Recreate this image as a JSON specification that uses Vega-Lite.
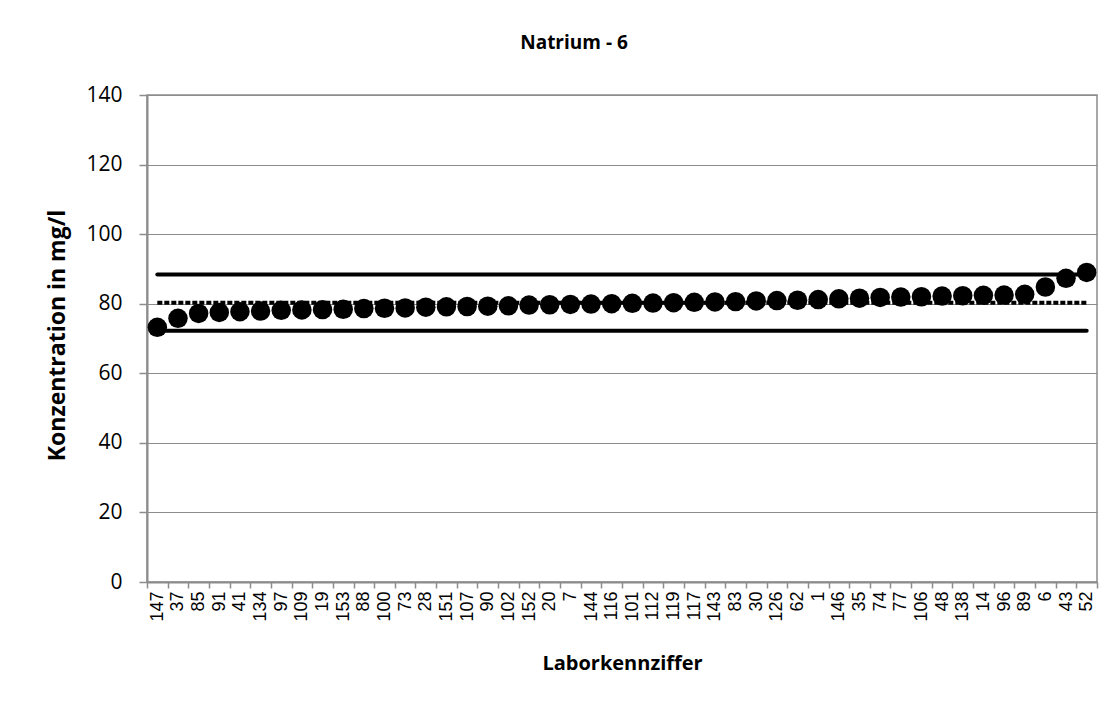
{
  "$schema": "https://vega.github.io/schema/vega-lite/v6.json",
  "autosize": {"type": "none"},
  "padding": {"left": 147, "top": 95, "right": 20, "bottom": 124},
  "width": 950,
  "height": 487,
  "background": "white",
  "title": {
    "text": "Natrium - 6",
    "font": "Open Sans",
    "fontSize": 19,
    "fontWeight": "bold",
    "color": "black",
    "anchor": "middle",
    "dx": -48,
    "offset": 31
  },
  "datasets": {
    "points": [
      {"lab": "147", "konz": 73.2},
      {"lab": "37", "konz": 75.8},
      {"lab": "85", "konz": 77.2},
      {"lab": "91", "konz": 77.5},
      {"lab": "41", "konz": 77.7},
      {"lab": "134", "konz": 77.9},
      {"lab": "97", "konz": 78.1},
      {"lab": "109", "konz": 78.2},
      {"lab": "19", "konz": 78.3},
      {"lab": "153", "konz": 78.4},
      {"lab": "88", "konz": 78.6},
      {"lab": "100", "konz": 78.7},
      {"lab": "73", "konz": 78.8},
      {"lab": "28", "konz": 79.0},
      {"lab": "151", "konz": 79.1},
      {"lab": "107", "konz": 79.2},
      {"lab": "90", "konz": 79.3},
      {"lab": "102", "konz": 79.4},
      {"lab": "152", "konz": 79.6},
      {"lab": "20", "konz": 79.7},
      {"lab": "7", "konz": 79.8},
      {"lab": "144", "konz": 79.9},
      {"lab": "116", "konz": 80.0},
      {"lab": "101", "konz": 80.1},
      {"lab": "112", "konz": 80.2},
      {"lab": "119", "konz": 80.3},
      {"lab": "117", "konz": 80.4},
      {"lab": "143", "konz": 80.5},
      {"lab": "83", "konz": 80.6},
      {"lab": "30", "konz": 80.8},
      {"lab": "126", "konz": 80.9},
      {"lab": "62", "konz": 81.0},
      {"lab": "1", "konz": 81.2},
      {"lab": "146", "konz": 81.4},
      {"lab": "35", "konz": 81.6},
      {"lab": "74", "konz": 81.8},
      {"lab": "77", "konz": 81.9},
      {"lab": "106", "konz": 82.0},
      {"lab": "48", "konz": 82.2},
      {"lab": "138", "konz": 82.3},
      {"lab": "14", "konz": 82.4},
      {"lab": "96", "konz": 82.5},
      {"lab": "89", "konz": 82.7},
      {"lab": "6", "konz": 84.8},
      {"lab": "43", "konz": 87.3},
      {"lab": "52", "konz": 89.0}
    ],
    "limits": [
      {"lab": "147", "wert": 88.4, "linie": "oben"},
      {"lab": "52", "wert": 88.4, "linie": "oben"},
      {"lab": "147", "wert": 72.2, "linie": "unten"},
      {"lab": "52", "wert": 72.2, "linie": "unten"}
    ],
    "mean": [
      {"lab": "147", "wert": 80.3},
      {"lab": "52", "wert": 80.3}
    ]
  },
  "config": {
    "view": {"stroke": "#8c8c8c", "strokeWidth": 1.5},
    "axis": {
      "domainColor": "#8c8c8c",
      "domainWidth": 2,
      "tickColor": "#8c8c8c",
      "tickWidth": 1.5,
      "gridColor": "#8c8c8c",
      "gridWidth": 1,
      "labelColor": "black",
      "titleColor": "black",
      "titleFont": "Open Sans",
      "titleFontWeight": "bold"
    }
  },
  "encoding": {
    "x": {
      "field": "lab",
      "type": "nominal",
      "sort": null,
      "scale": {
        "domain": ["147","37","85","91","41","134","97","109","19","153","88","100","73","28","151","107","90","102","152","20","7","144","116","101","112","119","117","143","83","30","126","62","1","146","35","74","77","106","48","138","14","96","89","6","43","52"],
        "paddingInner": 0,
        "paddingOuter": 0
      },
      "axis": {
        "title": "Laborkennziffer",
        "titleFontSize": 20,
        "titleX": 475,
        "titleY": 81,
        "titleBaseline": "middle",
        "labelAngle": -90,
        "labelAlign": "right",
        "labelBaseline": "middle",
        "labelFont": "Liberation Sans",
        "labelFontSize": 18,
        "labelPadding": 3,
        "labelLimit": 100,
        "tickSize": 6,
        "tickBand": "extent",
        "grid": false,
        "labelOverlap": false
      }
    }
  },
  "layer": [
    {
      "data": {"name": "limits"},
      "mark": {"type": "line", "color": "black", "strokeWidth": 4, "strokeCap": "round"},
      "encoding": {
        "y": {"field": "wert", "type": "quantitative"},
        "detail": {"field": "linie"}
      }
    },
    {
      "data": {"name": "mean"},
      "mark": {"type": "line", "color": "black", "strokeWidth": 4, "strokeDash": [5, 2]},
      "encoding": {
        "y": {"field": "wert", "type": "quantitative"}
      }
    },
    {
      "data": {"name": "points"},
      "mark": {"type": "point", "shape": "circle", "filled": true, "color": "black", "opacity": 1, "size": 380},
      "encoding": {
        "y": {
          "field": "konz",
          "type": "quantitative",
          "scale": {"domain": [0, 140], "nice": false},
          "axis": {
            "title": "Konzentration in mg/l",
            "titleFontSize": 23,
            "titleAngle": -90,
            "titleX": -90,
            "titleY": 240,
            "titleAlign": "center",
            "titleBaseline": "middle",
            "values": [0, 20, 40, 60, 80, 100, 120, 140],
            "labelFont": "Open Sans",
            "labelFontSize": 21,
            "labelPadding": 17,
            "tickSize": 8,
            "grid": true
          }
        }
      }
    }
  ]
}
